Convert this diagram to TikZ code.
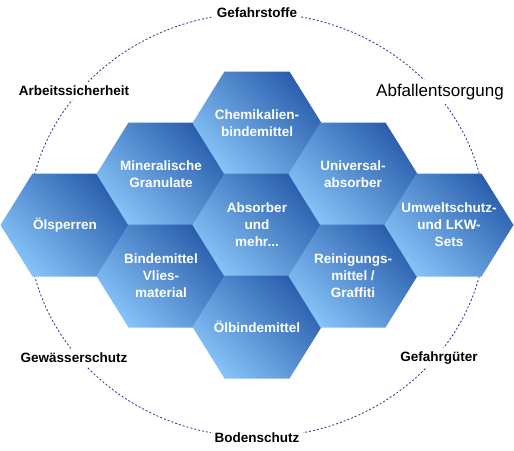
\documentclass[tikz,border=0pt]{standalone}
\usepackage{fontspec}
\setmainfont{Liberation Sans}
\usepackage{xcolor}
\usepackage{tikz}
\definecolor{hexdark}{HTML}{2A5EAC}
\definecolor{hexlight}{HTML}{86C3F8}
\definecolor{ringblue}{HTML}{2E2E8C}

\begin{document}
\begin{tikzpicture}[
  x=1pt, y=-1pt,
  ring/.style={ringblue, line width=0.8pt, dash pattern=on 2pt off 2pt},
  lbl/.style={fill=white, inner sep=4pt, font=\bfseries\fontsize{13.5}{16}\selectfont},
  biglbl/.style={fill=white, inner sep=4pt, font=\fontsize{17}{20}\selectfont},
  hexfill/.style={top color=hexdark, bottom color=hexlight, shading angle=-45},
  hexpath/.style={insert path={+(-64.5,0) -- +(-32.5,-51.5) -- +(32.5,-51.5) -- +(64.5,0) -- +(32.5,51.5) -- +(-32.5,51.5) -- cycle}},
  hextxt/.style={text=white, align=center, font=\bfseries\fontsize{13.5}{17}\selectfont}
]
\useasboundingbox (0,0) rectangle (514,450);

\draw[ring] (257,225) ellipse [x radius=229, y radius=212];

\node[lbl] (gefstoffe) at (257,13) {Gefahrstoffe};
\node[lbl] (arbeit) at (74,91) {Arbeitssicherheit};
\node[biglbl] (abfall) at (440,92) {Abfallentsorgung};
\node[lbl] (gewaesser) at (74,358) {Gewässerschutz};
\node[lbl] (gefgueter) at (439,358) {Gefahrgüter};
\node[lbl] (boden) at (257,438) {Bodenschutz};

\path[hexfill] (65,225) [hexpath];
\path[hexfill] (161,174) [hexpath];
\path[hexfill] (161,276) [hexpath];
\path[hexfill] (257,123) [hexpath];
\path[hexfill] (257,225) [hexpath];
\path[hexfill] (257,327) [hexpath];
\path[hexfill] (353,174) [hexpath];
\path[hexfill] (353,276) [hexpath];
\path[hexfill] (449,225) [hexpath];

\node[hextxt] (oelsp) at (65,225) {Ölsperren};
\node[hextxt] (mineral) at (161,174) {Mineralische\\Granulate};
\node[hextxt] (binde) at (161,276) {Bindemittel\\Vlies-\\material};
\node[hextxt] (chem) at (257,123) {Chemikalien-\\bindemittel};
\node[hextxt] (absorb) at (257,225) {Absorber\\und\\mehr...};
\node[hextxt] (oelbinde) at (257,327) {Ölbindemittel};
\node[hextxt] (univ) at (353,174) {Universal-\\absorber};
\node[hextxt] (reinig) at (353,276) {Reinigungs-\\mittel /\\Graffiti};
\node[hextxt] (umwelt) at (449,225) {Umweltschutz-\\und LKW-\\Sets};
\end{tikzpicture}
\end{document}
